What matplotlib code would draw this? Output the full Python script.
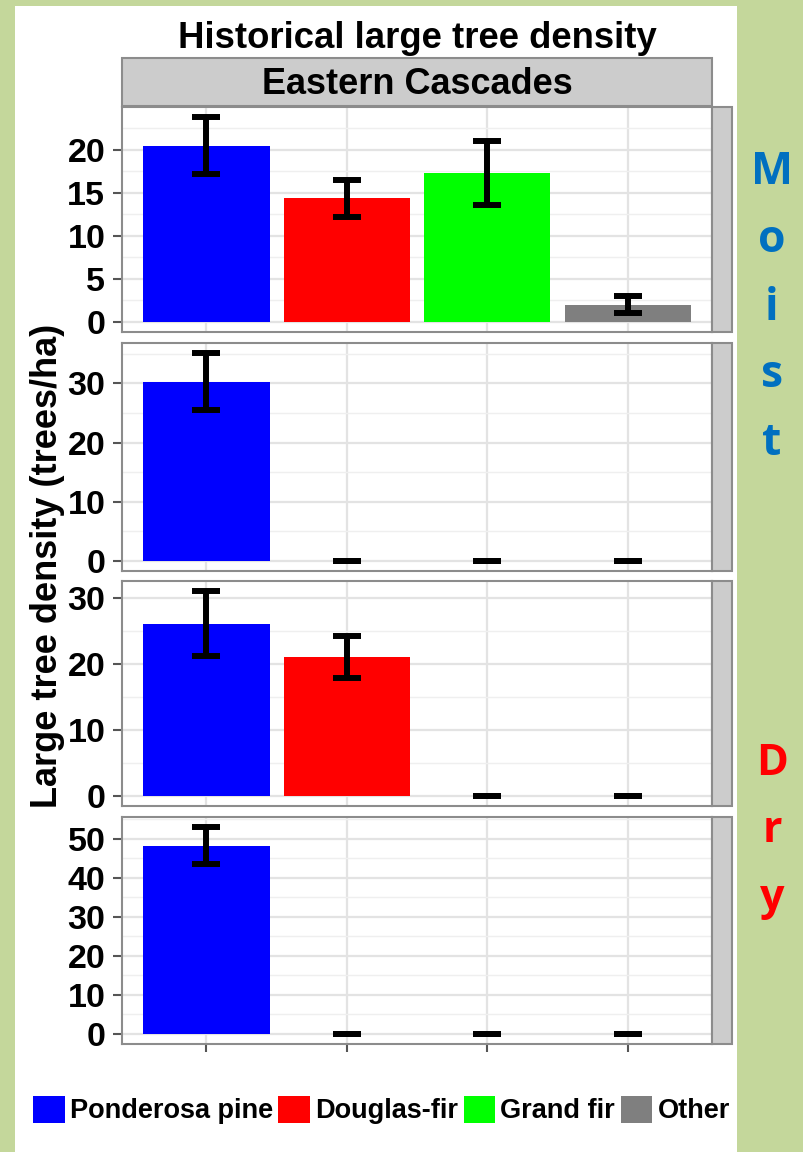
import matplotlib
matplotlib.use("Agg")
import matplotlib.pyplot as plt
from matplotlib.patches import Rectangle, Patch
from matplotlib.ticker import MultipleLocator
import numpy as np

plt.rcParams["font.family"] = ["Liberation Sans", "DejaVu Sans"]
plt.rcParams["font.weight"] = "bold"

W, H, DPI = 804, 1152, 100

BG_GREEN   = "#c4d79b"
STRIP_FILL = "#cccccc"
FRAME      = "#8c8c8c"
TICK_COLOR = "#555555"
GRID_MAJOR = "#e3e3e3"
GRID_MINOR = "#efefef"
MOIST_BLUE = "#0070c0"
DRY_RED    = "#ff0000"

species        = ["Ponderosa pine", "Douglas-fir", "Grand fir", "Other"]
species_colors = ["#0000ff", "#ff0000", "#00ff00", "#7f7f7f"]

# mean large tree density (trees/ha) and its error, one list per row of panels
density_1 = [20.5, 14.35, 17.3, 2.0]
density_2 = [30.3, 0.0, 0.0, 0.0]
density_3 = [26.1, 21.0, 0.0, 0.0]
density_4 = [48.2, 0.0, 0.0, 0.0]

err_1 = [3.3, 2.15, 3.7, 0.95]
err_2 = [4.8, 0.0, 0.0, 0.0]
err_3 = [4.9, 3.15, 0.0, 0.0]
err_4 = [4.75, 0.0, 0.0, 0.0]

yticks_1 = [0, 5, 10, 15, 20]
yticks_2 = [0, 10, 20, 30]
yticks_3 = [0, 10, 20, 30]
yticks_4 = [0, 10, 20, 30, 40, 50]

rows = [
    (density_1, err_1, yticks_1),
    (density_2, err_2, yticks_2),
    (density_3, err_3, yticks_3),
    (density_4, err_4, yticks_4),
]

# panel layout in pixels (left, right) and (top, bottom) per row
PANEL_X = (122, 712)
PANEL_Y = [(107, 332), (343, 571), (581, 806), (817, 1044)]
SIDE_STRIP_W = 20


def px_rect(x0, y0, x1, y1):
    return [x0 / W, 1 - y1 / H, (x1 - x0) / W, (y1 - y0) / H]


def add_box(fig, x0, y0, x1, y1, face, edge=FRAME, lw=1.5, z=1):
    r = px_rect(x0, y0, x1, y1)
    fig.add_artist(Rectangle((r[0], r[1]), r[2], r[3], transform=fig.transFigure,
                             facecolor=face, edgecolor=edge, linewidth=lw, zorder=z))


fig = plt.figure(figsize=(W / DPI, H / DPI), dpi=DPI, facecolor=BG_GREEN)

# white sheet behind the plot
add_box(fig, 15, 6, 737, H + 5, "white", edge="none", lw=0, z=0)

x = np.arange(1, len(species) + 1)
for i, (means, errs, ticks) in enumerate(rows):
    top, bottom = PANEL_Y[i]
    ax = fig.add_axes(px_rect(PANEL_X[0], top, PANEL_X[1], bottom))
    ax.set_facecolor("white")

    ax.bar(x, means, width=0.9, color=species_colors, zorder=2)
    ax.errorbar(x, means, yerr=errs, fmt="none", ecolor="black",
                elinewidth=4.3, capsize=10, capthick=4.3, zorder=3)

    ymax = max(m + e for m, e in zip(means, errs))
    ax.set_ylim(-0.05 * ymax, 1.05 * ymax)
    ax.set_xlim(0.4, len(species) + 0.6)

    ax.set_yticks(ticks)
    ax.yaxis.set_minor_locator(MultipleLocator((ticks[1] - ticks[0]) / 2))
    ax.set_xticks(x)
    ax.set_xticklabels([])
    ax.grid(which="major", color=GRID_MAJOR, linewidth=1.6)
    ax.grid(which="minor", axis="y", color=GRID_MINOR, linewidth=1.0)
    ax.set_axisbelow(True)

    ax.tick_params(axis="y", which="major", length=6.5, width=1.5, color=TICK_COLOR,
                   pad=5.5, labelsize=24.5, labelcolor="black")
    ax.tick_params(which="minor", length=0)
    last = i == len(rows) - 1
    ax.tick_params(axis="x", length=6 if last else 0, width=1.5, color=TICK_COLOR)
    for lab in ax.get_yticklabels():
        lab.set_fontweight("bold")

    for s in ax.spines.values():
        s.set_color(FRAME)
        s.set_linewidth(1.5)

    # empty facet strip on the right of each row
    add_box(fig, PANEL_X[1], top, PANEL_X[1] + SIDE_STRIP_W, bottom, STRIP_FILL)

# column strip
add_box(fig, PANEL_X[0], 58, PANEL_X[1], 106, STRIP_FILL)
fig.text((PANEL_X[0] + PANEL_X[1]) / 2 / W, 1 - 84 / H, "Eastern Cascades",
         ha="center", va="center", fontsize=26, fontweight="bold")

fig.text(417 / W, 1 - 38 / H, "Historical large tree density",
         ha="center", va="center", fontsize=26.3, fontweight="bold")

fig.text(48 / W, 1 - 566 / H, "Large tree density (trees/ha)", rotation=90,
         ha="center", va="center", fontsize=26, fontweight="bold")

# site labels written down the right margin
for k, ch in enumerate("Moist"):
    fig.text(772 / W, 1 - (184 + 67.8 * k) / H, ch, ha="center", va="baseline",
             fontsize=32, fontweight="bold", color=MOIST_BLUE, family="Open Sans")
for k, ch in enumerate("Dry"):
    fig.text(772 / W, 1 - (775 + 67.5 * k) / H, ch, ha="center", va="baseline",
             fontsize=31, fontweight="bold", color=DRY_RED, family="Open Sans")

handles = [Patch(facecolor=c, edgecolor="none", label=s)
           for s, c in zip(species, species_colors)]
fig.legend(handles=handles, ncol=4, loc="center left",
           bbox_to_anchor=(33 / W, 1 - 1110 / H), frameon=False,
           prop={"size": 19.5, "weight": "bold"},
           handlelength=1.17, handleheight=1.15, handletextpad=0.19,
           columnspacing=0.2, borderpad=0, borderaxespad=0)

fig.savefig("out.png", dpi=DPI, facecolor=BG_GREEN)
plt.close(fig)
